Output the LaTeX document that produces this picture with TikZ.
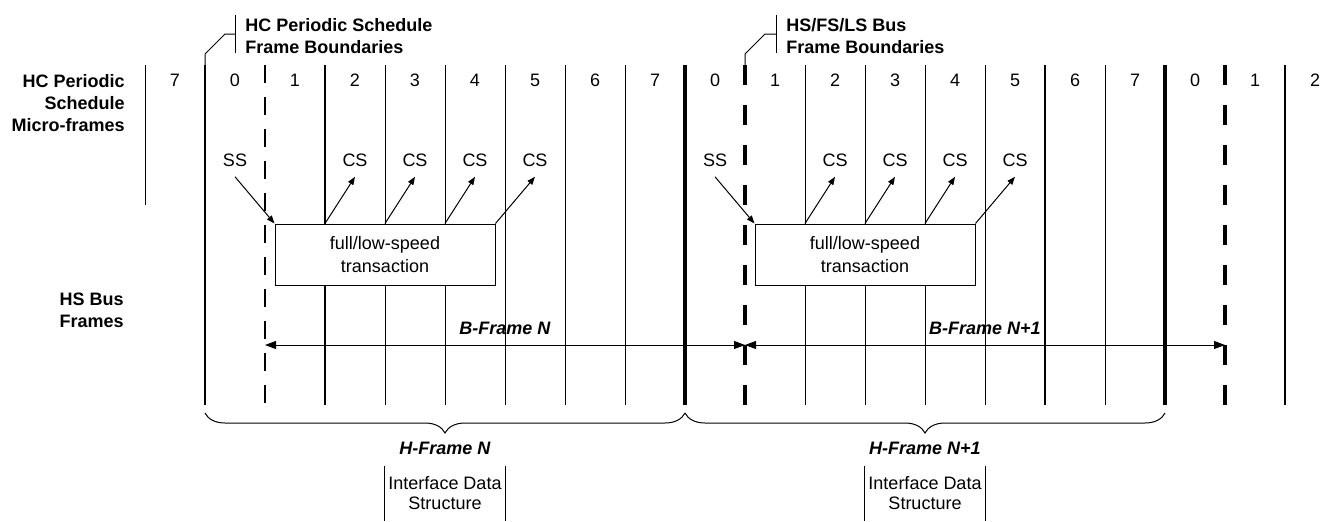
\documentclass[tikz,border=0pt]{standalone}
\usepackage{fontspec}
\setmainfont{Liberation Sans}
\usetikzlibrary{arrows.meta,decorations.pathreplacing}

\tikzset{
  thinline/.style={line width=0.5pt},
  thickline/.style={line width=1.4pt},
  heavyline/.style={line width=2.1pt},
  hcdash/.style={line width=1.4pt, dash pattern=on 9pt off 7pt},
  busdash/.style={line width=2.1pt, dash pattern=on 10pt off 10pt},
  arr/.style={line width=0.5pt, -{Triangle[length=4pt,width=3pt]}},
  barr/.style={line width=0.5pt, {Triangle[length=5.5pt,width=4pt]}-{Triangle[length=5.5pt,width=4pt]}},
  txbox/.style={draw, line width=0.5pt, fill=white, minimum width=110pt, minimum height=30.5pt,
                inner sep=0pt, align=center, font=\fontsize{9}{11.3}\selectfont},
  idsbox/.style={minimum width=60pt, minimum height=27.5pt, inner sep=0pt, align=center,
                 font=\fontsize{9}{10}\selectfont},
  lbl/.style={inner sep=5pt},
  rowlbl/.style={font=\fontsize{9}{11}\selectfont\bfseries, align=right, anchor=north east, inner sep=0pt},
  hdrlbl/.style={font=\fontsize{9}{10.8}\selectfont\bfseries, align=left, anchor=north west, inner sep=0pt},
  frlbl/.style={font=\fontsize{9}{11}\selectfont\bfseries\itshape},
  hbrace/.style={decorate, decoration={brace, mirror, amplitude=10pt}, line width=0.5pt}
}

\begin{document}
\begin{tikzpicture}[x=0.5pt, y=-0.5pt, every node/.style={font=\fontsize{9}{11}\selectfont}]
\useasboundingbox (0,0) rectangle (1323,521);
% Micro-frame grid
\coordinate (g0) at (145,65);
\draw[thinline] (g0) -- ++(0,140);
\foreach \k/\s in {1/thickline, 2/hcdash, 3/thickline, 4/thinline, 5/thinline, 6/thinline,
                   7/thinline, 8/thinline, 9/heavyline, 10/busdash, 11/thinline, 12/thinline,
                   13/thinline, 14/thinline, 15/thickline, 16/thinline, 17/heavyline,
                   18/busdash, 19/thickline} {
  \coordinate (g\k) at ({145+60*\k},65);
  \draw[\s] (g\k) -- ++(0,340);
}
% Micro-frame numbers
\foreach \k/\n in {0/7,1/0,2/1,3/2,4/3,5/4,6/5,7/6,8/7,9/0,10/1,11/2,12/3,13/4,14/5,15/6,16/7,17/0,18/1,19/2}
  \node (num\k) at ({175+60*\k},80) {\n};
% Row labels
\node[rowlbl] (rowhc) at (125,74) {HC Periodic\\Schedule\\Micro-frames};
\node[rowlbl] (rowhs) at (124,293) {HS Bus\\Frames};
% Boundary labels
\node[hdrlbl] (hdrhc) at (245,18) {HC Periodic Schedule\\Frame Boundaries};
\node[hdrlbl] (hdrbus) at (786,18) {HS/FS/LS Bus\\Frame Boundaries};
\coordinate (leadhc) at (235,34);
\coordinate (leadbus) at (776,34);
\draw[thinline] (235,15) -- (235,53);
\draw[thinline] (776,15) -- (776,53);
\draw[thinline] (g1) -- ++(0,-11) -- ++(20,-20) -- (leadhc);
\draw[thinline] (g10) -- ++(0,-11) -- ++(20,-20) -- (leadbus);
% Start / complete split labels
\node[lbl] (ss1) at (235,160) {SS};
\foreach \k/\x in {1/355,2/415,3/475,4/535} \node[lbl] (csa\k) at (\x,160) {CS};
\node[lbl] (ss2) at (715,160) {SS};
\foreach \k/\x in {1/835,2/895,3/955,4/1015} \node[lbl] (csb\k) at (\x,160) {CS};
% Transactions
\node[txbox] (box1) at (385,254.5) {full/low-speed\\transaction};
\node[txbox] (box2) at (865,254.5) {full/low-speed\\transaction};
\draw[arr] (ss1.south) -- (box1.north west);
\draw[arr] (g3 |- box1.north) -- (csa1.south);
\draw[arr] (g4 |- box1.north) -- (csa2.south);
\draw[arr] (g5 |- box1.north) -- (csa3.south);
\draw[arr] (box1.north east) -- (csa4.south);
\draw[arr] (ss2.south) -- (box2.north west);
\draw[arr] (g11 |- box2.north) -- (csb1.south);
\draw[arr] (g12 |- box2.north) -- (csb2.south);
\draw[arr] (g13 |- box2.north) -- (csb3.south);
\draw[arr] (box2.north east) -- (csb4.south);
% B-frames
\coordinate (bf0) at (g2 |- 0,345);
\coordinate (bf1) at (g10 |- 0,345);
\coordinate (bf2) at (g18 |- 0,345);
\draw[barr] (bf0) -- node[frlbl, above, inner sep=5pt] (bfn1) {B-Frame N} (bf1);
\draw[barr] (bf1) -- node[frlbl, above, inner sep=5pt] (bfn2) {B-Frame N+1} (bf2);
% H-frames
\draw[hbrace] (g1 |- 0,413) -- (g9 |- 0,413);
\draw[hbrace] (g9 |- 0,413) -- (g17 |- 0,413);
\node[frlbl] (hfn1) at (445,448.5) {H-Frame N};
\node[frlbl] (hfn2) at (925,448.5) {H-Frame N+1};
% Interface data structures
\node[idsbox] (ids1) at (445,493.5) {Interface Data\\Structure};
\node[idsbox] (ids2) at (925,493.5) {Interface Data\\Structure};
\draw[thinline] (ids1.north west) -- (ids1.south west) (ids1.north east) -- (ids1.south east);
\draw[thinline] (ids2.north west) -- (ids2.south west) (ids2.north east) -- (ids2.south east);
\end{tikzpicture}
\end{document}
